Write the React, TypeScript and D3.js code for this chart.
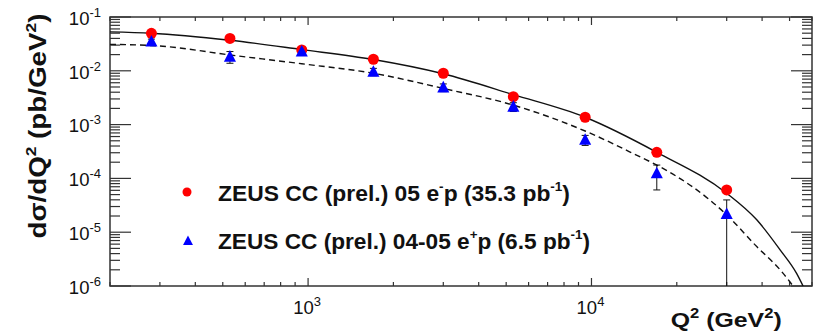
import React from "react";
import * as d3 from "d3";

// ---- data ----
const q2Bins = [280, 530, 950, 1700, 3000, 5300, 9500, 17000, 30000];
const emValues = [0.0497, 0.04, 0.0244, 0.0164, 0.009, 0.0033, 0.00137, 3.06e-4, 6.1e-5];
const emErr = [0.002, 0.002, 0.001, 0.0007, 0.0004, 0.0002, 0.0001, 0.00003, 0.000012];
const epValues = [0.0348, 0.0183, 0.0227, 0.0096, 0.0049, 0.00215, 5.2e-4, 1.24e-4, 2.18e-5];
const epErrUp = [0.004, 0.0045, 0.003, 0.0015, 0.0008, 0.0004, 1.1e-4, 5.3e-5, 1.8e-5];
const epErrDown = [0.004, 0.0045, 0.003, 0.0015, 0.0008, 0.0004, 1.1e-4, 6.3e-5, 2.18e-5];

const smEmQ2 = [200, 280, 530, 950, 1700, 3000, 5300, 9500, 17000, 30000, 38300, 46300, 53000, 55800];
const smEmVal = [0.053, 0.05, 0.037, 0.0248, 0.0162, 0.0088, 0.0036, 0.00137, 3.06e-4, 5.3e-5, 1.7e-5, 4.7e-6, 1.7e-6, 1.0e-6];
const smEpQ2 = [200, 300, 530, 950, 1700, 3000, 5300, 9500, 14800, 17000, 30000, 38300, 46300, 50100, 51400];
const smEpVal = [0.031, 0.0289, 0.0197, 0.0135, 0.009, 0.0047, 0.0023, 7.6e-4, 2.53e-4, 1.77e-4, 2.1e-5, 5.4e-6, 2.0e-6, 1.2e-6, 1.0e-6];

const yTickExps = [-1, -2, -3, -4, -5, -6];
const xTickExps = [3, 4];

const legendLabels = [
  { pre: "ZEUS CC (prel.) 05 e", sup1: "-", mid: "p (35.3 pb", sup2: "-1", post: ")" },
  { pre: "ZEUS CC (prel.) 04-05 e", sup1: "+", mid: "p (6.5 pb", sup2: "-1", post: ")" },
];
const legendWidths = [352, 372];

const W = 821;
const H = 336;
const L = 110, R = 812, T = 17, B = 286;
const FONT = "'Liberation Sans', Arial, Helvetica, sans-serif";

export default function App() {
  const x = d3.scaleLog().domain([200, 60000]).range([L, R]);
  const y = d3.scaleLog().domain([1e-6, 1e-1]).range([B, T]).clamp(true);

  const xTicks = x.ticks();
  const yTicks = y.ticks();
  const isMajor = (v: number) => Math.abs(Math.log10(v) - Math.round(Math.log10(v))) < 1e-9;

  const line = d3
    .line<[number, number]>()
    .x((d) => x(d[0]))
    .y((d) => y(d[1]))
    .curve(d3.curveMonotoneX);

  const emCurve = line(smEmQ2.map((q, i) => [q, smEmVal[i]] as [number, number])) || "";
  const epCurve = line(smEpQ2.map((q, i) => [q, smEpVal[i]] as [number, number])) || "";

  const tri = (cx: number, cy: number, s: number) =>
    `M${cx},${cy - s * 0.6}L${cx + s * 0.55},${cy + s * 0.45}L${cx - s * 0.55},${cy + s * 0.45}Z`;

  const frameColor = "#333";

  return (
    <svg width={W} height={H} style={{ position: "absolute", left: 0, top: 0, background: "#fff" }}>
      <defs>
        <clipPath id="plotclip">
          <rect x={L} y={T} width={R - L} height={B - T} />
        </clipPath>
      </defs>

      {xTicks.map((t, i) => {
        const px = x(t);
        const len = isMajor(t) ? 8 : 4;
        return (
          <g key={"xt" + i} stroke={frameColor} strokeWidth={1.2}>
            <line x1={px} x2={px} y1={B} y2={B - len} />
            <line x1={px} x2={px} y1={T} y2={T + len} />
          </g>
        );
      })}
      {yTicks.map((t, i) => {
        const py = y(t);
        const len = isMajor(t) ? 21 : 10;
        return (
          <g key={"yt" + i} stroke={frameColor} strokeWidth={1.2}>
            <line x1={L} x2={L + len} y1={py} y2={py} />
            <line x1={R} x2={R - len} y1={py} y2={py} />
          </g>
        );
      })}

      <rect x={L} y={T} width={R - L} height={B - T} fill="none" stroke={frameColor} strokeWidth={1.5} />

      {yTickExps.map((e) => (
        <text key={"yl" + e} x={101} y={y(Math.pow(10, e)) + 7.7} textAnchor="end" fontFamily={FONT} fontSize={18.5} fill="#111">
          10
          <tspan dy={-8} fontSize={13}>{String(e)}</tspan>
        </text>
      ))}
      {xTickExps.map((e) => (
        <text key={"xl" + e} x={x(Math.pow(10, e)) - 1} y={314} textAnchor="middle" fontFamily={FONT} fontSize={18.5} fill="#111">
          10
          <tspan dy={-8} fontSize={13}>{String(e)}</tspan>
        </text>
      ))}

      <text
        transform={`translate(46,126) rotate(-90)`}
        textAnchor="middle"
        fontFamily={FONT}
        fontWeight="bold"
        fontSize={24}
        fill="#111"
        textLength={225}
        lengthAdjust="spacingAndGlyphs"
      >
        dσ/dQ<tspan dy={-10} fontSize={15}>2</tspan>
        <tspan dy={10}> (pb/GeV</tspan>
        <tspan dy={-10} fontSize={15}>2</tspan>
        <tspan dy={10}>)</tspan>
      </text>
      <text
        x={670.7}
        y={326.7}
        fontFamily={FONT}
        fontWeight="bold"
        fontSize={21}
        fill="#111"
        textLength={111}
        lengthAdjust="spacingAndGlyphs"
      >
        Q<tspan dy={-9} fontSize={14}>2</tspan>
        <tspan dy={9}> (GeV</tspan>
        <tspan dy={-9} fontSize={14}>2</tspan>
        <tspan dy={9}>)</tspan>
      </text>

      <g clipPath="url(#plotclip)" fill="none">
        <path d={emCurve} stroke="#111" strokeWidth={1.4} />
        <path d={epCurve} stroke="#111" strokeWidth={1.4} strokeDasharray="6,4" />
      </g>

      <g stroke="#111" strokeWidth={1}>
        {q2Bins.map((q, i) => {
          const px = x(q);
          return (
            <line key={"ee" + i} x1={px} x2={px} y1={y(emValues[i] + emErr[i])} y2={y(emValues[i] - emErr[i])} />
          );
        })}
        {q2Bins.map((q, i) => {
          const px = x(q);
          const lo = epValues[i] - epErrDown[i];
          const yLo = lo > 1e-6 ? y(lo) : B;
          const yHi = y(epValues[i] + epErrUp[i]);
          return (
            <g key={"pe" + i}>
              <line x1={px} x2={px} y1={yHi} y2={yLo} />
              <line x1={px - 3.5} x2={px + 3.5} y1={yHi} y2={yHi} />
              {lo > 1e-6 && <line x1={px - 3.5} x2={px + 3.5} y1={yLo} y2={yLo} />}
            </g>
          );
        })}
      </g>

      {q2Bins.map((q, i) => (
        <circle key={"em" + i} cx={x(q)} cy={y(emValues[i])} r={5.5} fill="#ff0000" />
      ))}
      {q2Bins.map((q, i) => (
        <path key={"ep" + i} d={tri(x(q), y(epValues[i]), 11)} fill="#0000ff" />
      ))}

      <circle cx={187} cy={192} r={4.5} fill="#ff0000" />
      <path d={tri(188, 241, 9)} fill="#0000ff" />
      {legendLabels.map((lb, i) => (
        <text
          key={"lg" + i}
          x={218}
          y={201 + i * 48}
          fontFamily={FONT}
          fontWeight="bold"
          fontSize={22}
          fill="#111"
          textLength={legendWidths[i]}
          lengthAdjust="spacingAndGlyphs"
        >
          {lb.pre}
          <tspan dy={-10} fontSize={13}>{lb.sup1}</tspan>
          <tspan dy={10}>{lb.mid}</tspan>
          <tspan dy={-10} fontSize={13}>{lb.sup2}</tspan>
          <tspan dy={10}>{lb.post}</tspan>
        </text>
      ))}
    </svg>
  );
}
